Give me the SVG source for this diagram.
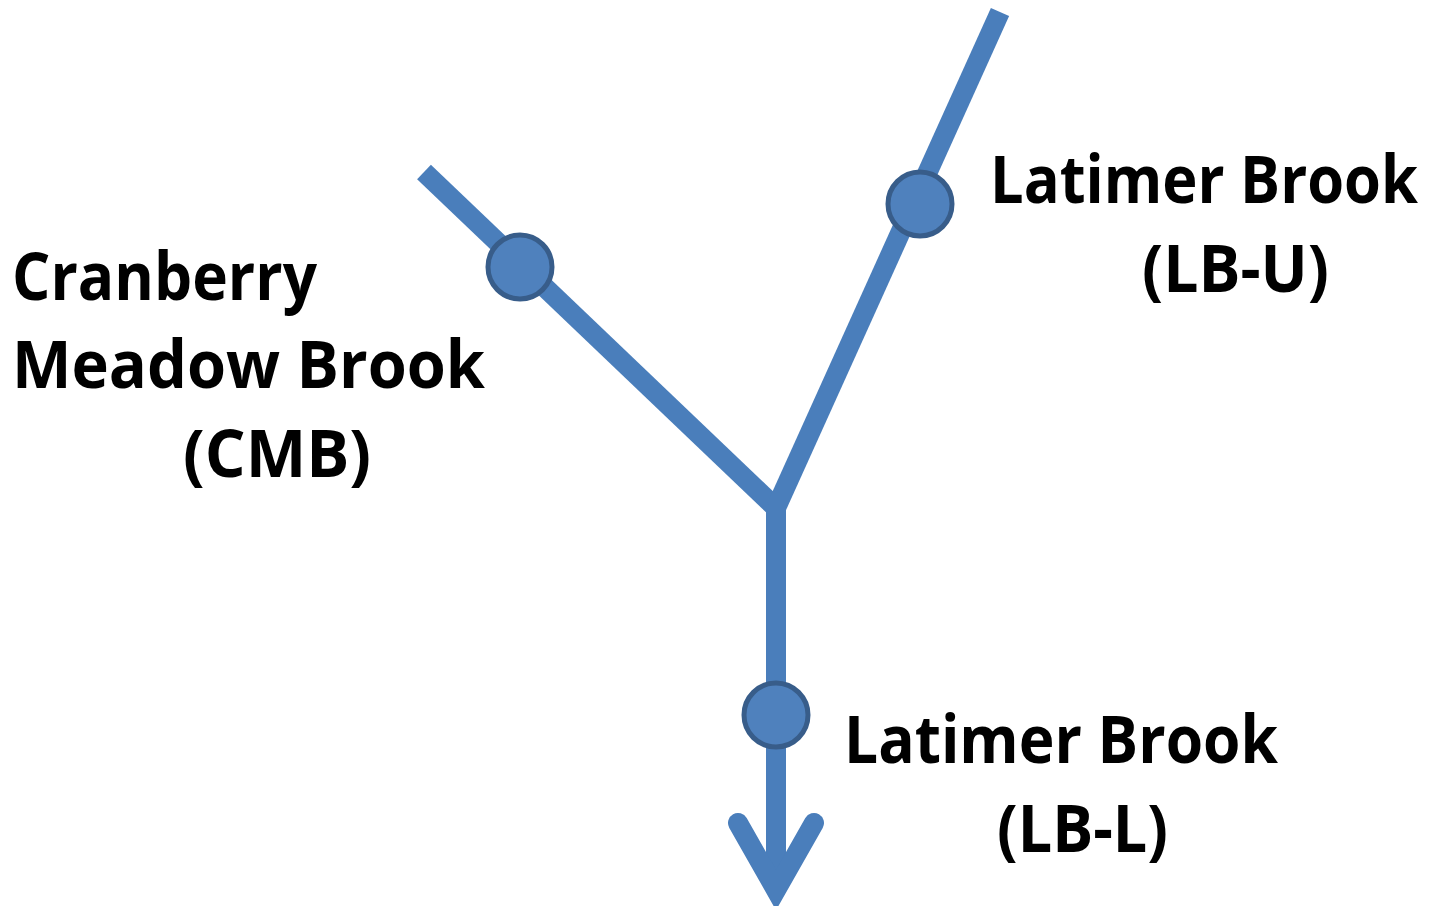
<svg xmlns="http://www.w3.org/2000/svg" width="1432" height="906" viewBox="0 0 1432 906">
  <style>
    .river { fill: none; stroke: #4a7ebb; stroke-width: 20; }
    .site { fill: #4f81bd; stroke: #385d8a; stroke-width: 5; }
    .label { font-family: "Open Sans", "Liberation Sans", sans-serif; font-weight: bold; font-size: 67px; fill: #000; }
  </style>
  <rect width="1432" height="906" fill="#fff"/>

  <!-- stream network -->
  <g id="connectors">
    <path class="river" d="M424 172 L776 508"/>
    <path class="river" d="M1000 12 L776 508"/>
    <path class="river" d="M776 505 L776 890"/>
    <path class="river" d="M738 823 L776 890 L814 823" stroke-linecap="round" stroke-linejoin="miter" stroke-miterlimit="10"/>
  </g>

  <!-- sampling sites -->
  <g id="site-cmb">
    <circle class="site" cx="520" cy="267" r="32"/>
    <text class="label" x="12" y="300" textLength="305" lengthAdjust="spacingAndGlyphs">Cranberry</text>
    <text class="label" x="12" y="388" textLength="473" lengthAdjust="spacingAndGlyphs">Meadow Brook</text>
    <text class="label" x="183" y="477" textLength="188" lengthAdjust="spacingAndGlyphs">(CMB)</text>
  </g>
  <g id="site-lbu">
    <circle class="site" cx="920" cy="204" r="32"/>
    <text class="label" x="990" y="203" textLength="428" lengthAdjust="spacingAndGlyphs">Latimer Brook</text>
    <text class="label" x="1142" y="292" textLength="187" lengthAdjust="spacingAndGlyphs">(LB-U)</text>
  </g>
  <g id="site-lbl">
    <circle class="site" cx="776" cy="715" r="32"/>
    <text class="label" x="844" y="763" textLength="434" lengthAdjust="spacingAndGlyphs">Latimer Brook</text>
    <text class="label" x="997" y="852" textLength="171" lengthAdjust="spacingAndGlyphs">(LB-L)</text>
  </g>
</svg>
